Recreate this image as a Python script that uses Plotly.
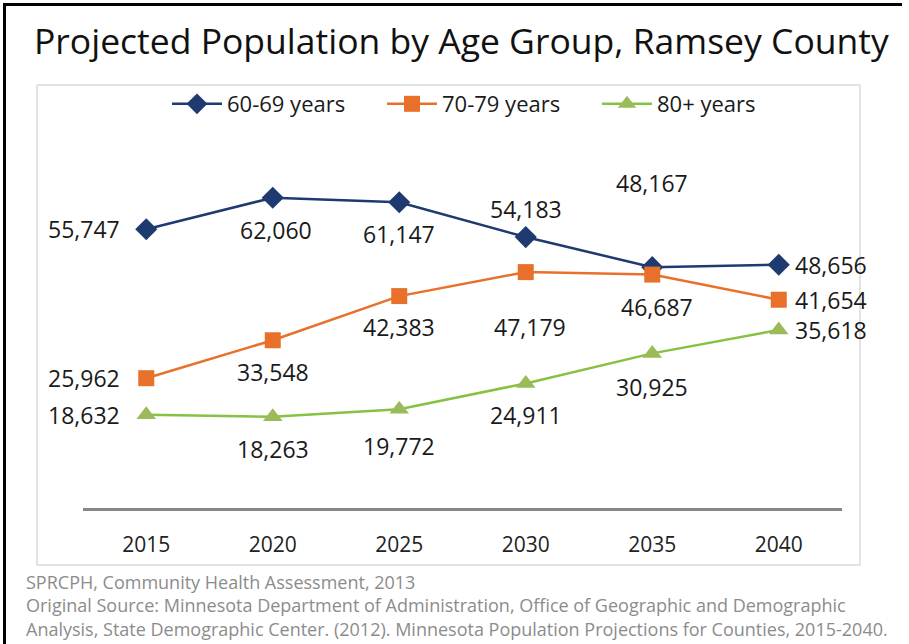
import plotly.graph_objects as go

# Projected population counts for Ramsey County by age group
years = ["2015", "2020", "2025", "2030", "2035", "2040"]
age_60_69 = [55747, 62060, 61147, 54183, 48167, 48656]
age_70_79 = [25962, 33548, 42383, 47179, 46687, 41654]
age_80_plus = [18632, 18263, 19772, 24911, 30925, 35618]

series_names = ["60-69 years", "70-79 years", "80+ years"]

NAVY = "#1F3A6E"
ORANGE = "#E8702A"
GREEN_LINE = "#86C141"
GREEN_MARK = "#9BBB59"

# Plot area in pixels (for a 909x644 canvas)
W, H = 909, 644
L, R, T, B = 83, 842, 108, 508
YMAX = 80000


def px_x(p):
    return (p - L) / (R - L)


def px_y(p):
    return (B - p) / (B - T)


fig = go.Figure()

fig.add_trace(go.Scatter(
    x=years, y=age_60_69, name=series_names[0], mode="lines+markers",
    line=dict(color=NAVY, width=2.5),
    marker=dict(symbol="diamond", size=17, color=NAVY),
))
fig.add_trace(go.Scatter(
    x=years, y=age_70_79, name=series_names[1], mode="lines+markers",
    line=dict(color=ORANGE, width=2.5),
    marker=dict(symbol="square", size=16, color=ORANGE),
))
fig.add_trace(go.Scatter(
    x=years, y=age_80_plus, name=series_names[2], mode="lines+markers",
    line=dict(color=GREEN_LINE, width=2.5),
    marker=dict(symbol="triangle-up", size=17, color=GREEN_MARK),
))

# Data-label placement per point: (xshift, yshift, xanchor)
label_pos = {
    0: [(-24, 0, "right"), (3, -32, "center"), (0, -32, "center"),
        (0, 28, "center"), (0, 84, "center"), (14, 0, "left")],
    1: [(-24, 0, "right"), (0, -32, "center"), (0, -31, "center"),
        (4, -55, "center"), (5, -32, "center"), (14, 0, "left")],
    2: [(-24, 0, "right"), (0, -32, "center"), (0, -37, "center"),
        (0, -32, "center"), (0, -34, "center"), (14, 0, "left")],
}

for si, vals in enumerate([age_60_69, age_70_79, age_80_plus]):
    for i, v in enumerate(vals):
        xs, ys, xa = label_pos[si][i]
        fig.add_annotation(
            x=i, y=v, text=f"{v:,}", showarrow=False,
            xshift=xs, yshift=ys, xanchor=xa, yanchor="middle",
            font=dict(family="Open Sans", size=23, color="#1a1a1a"),
        )

shapes = [
    # inner chart frame
    dict(type="rect", xref="paper", yref="paper",
         x0=px_x(37), x1=px_x(860), y0=px_y(565), y1=px_y(85),
         line=dict(color="#C8C8C8", width=1), layer="below"),
    # outer frame: top and left edges
    dict(type="line", xref="paper", yref="paper",
         x0=px_x(3), x1=px_x(902), y0=px_y(4.5), y1=px_y(4.5),
         line=dict(color="#000000", width=3)),
    dict(type="line", xref="paper", yref="paper",
         x0=px_x(4.5), x1=px_x(4.5), y0=px_y(3), y1=px_y(650),
         line=dict(color="#000000", width=3)),
]

source_text = "<br>".join([
    "SPRCPH, Community Health Assessment, 2013",
    "Original Source: Minnesota Department of Administration, Office of Geographic and Demographic",
    "Analysis, State Demographic Center. (2012). Minnesota Population Projections for Counties, 2015-2040.",
])
fig.add_annotation(
    xref="paper", yref="paper", x=px_x(24), y=px_y(568),
    xanchor="left", yanchor="top", align="left", showarrow=False,
    text=source_text,
    font=dict(family="Open Sans", size=18, color="#8C8C8C"),
)

fig.add_annotation(
    xref="paper", yref="paper", x=px_x(461), y=px_y(40),
    xanchor="center", yanchor="middle", showarrow=False,
    text="Projected Population by Age Group, Ramsey County",
    font=dict(family="Open Sans", size=35.5, color="#111111"),
)

fig.update_layout(
    width=W, height=H,
    margin=dict(l=L, r=W - R, t=T, b=H - B, pad=0),
    paper_bgcolor="white", plot_bgcolor="white",
    showlegend=True,
    legend=dict(
        orientation="h", x=px_x(167), xanchor="left",
        y=px_y(104), yanchor="middle",
        font=dict(family="Open Sans", size=22, color="#1a1a1a"),
        itemwidth=50, entrywidth=150, bgcolor="rgba(0,0,0,0)",
        tracegroupgap=0,
    ),
    shapes=shapes,
    xaxis=dict(
        type="category", range=[-0.5, len(years) - 0.5],
        showgrid=False, zeroline=False,
        showline=True, linecolor="#878787", linewidth=3,
        ticks="", ticklabelstandoff=16,
        tickfont=dict(family="Open Sans", size=21, color="#222222"),
    ),
    yaxis=dict(range=[0, YMAX], visible=False, showgrid=False, zeroline=False),
)

fig.write_html("out.html")
